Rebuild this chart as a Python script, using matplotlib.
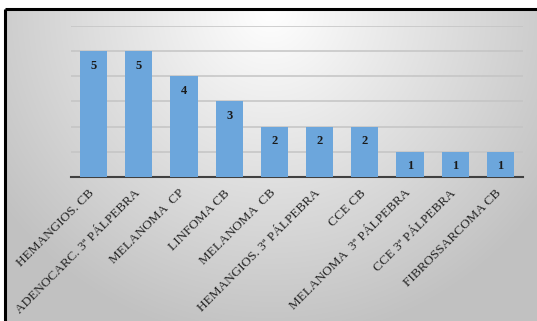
import numpy as np
import matplotlib.pyplot as plt
import matplotlib.transforms as mtransforms

categorias = ["HEMANGIOS. CB", "ADENOCARC. 3ª PÁLPEBRA", "MELANOMA  CP", "LINFOMA CB",
              "MELANOMA  CB", "HEMANGIOS. 3ª PÁLPEBRA", "CCE CB", "MELANOMA  3ª PÁLPEBRA",
              "CCE 3ª PÁLPEBRA", "FIBROSSARCOMA CB"]
casos = [5, 5, 4, 3, 2, 2, 2, 1, 1, 1]

W, H = 537, 321
fig = plt.figure(figsize=(W / 100, H / 100), dpi=100)
fig.patch.set_facecolor("white")

# fundo com degradê radial dentro da moldura
bg = fig.add_axes([0, 0, 1, 1], zorder=-2)
yy, xx = np.mgrid[0:H, 0:W]
d = np.sqrt(((xx - 270) / 330.0) ** 2 + ((yy - 10) / 330.0) ** 2)
g = np.clip(1.0 - 0.24 * d, 0.76, 1.0)
g[:9, :] = 1.0
g[:, :5] = 1.0
bg.imshow(np.dstack([g, g, g]), extent=[0, W, H, 0], aspect="auto", interpolation="bilinear")
bg.set_xlim(0, W)
bg.set_ylim(H, 0)
bg.axis("off")
bg.plot([5, 5], [9, H], color="black", lw=2.2, solid_capstyle="butt")
bg.plot([5, W], [9, 9], color="black", lw=2.2, solid_capstyle="butt")

ax = fig.add_axes([71 / W, 1 - 177 / H, (523 - 71) / W, (177 - 26) / H])
ax.patch.set_alpha(0)
x = np.arange(len(categorias))
bars = ax.bar(x, casos, width=0.6, color="#6ca6dc", zorder=3)
for xi, v in zip(x, casos):
    ax.text(xi, v - 0.57, str(v), ha="center", va="center", fontsize=9,
            fontweight="bold", family="Liberation Serif", color="#1a1a1a", zorder=4)

ax.set_xlim(-0.5, len(categorias) - 0.5)
ax.set_ylim(0, 6)
ax.set_yticks(range(1, 7))
ax.yaxis.grid(True, color="#c4c4c4", lw=1.1, zorder=0)
ax.tick_params(axis="y", left=False, labelleft=False)
ax.tick_params(axis="x", length=0, pad=8)
ax.set_xticks(x)
ax.set_xticklabels(categorias, rotation=45, ha="right", rotation_mode="anchor",
                   fontsize=9.5, family="Liberation Serif", color="#262626")
desloc = mtransforms.ScaledTranslation(-5 / 100, 1 / 100, fig.dpi_scale_trans)
for lbl in ax.get_xticklabels():
    lbl.set_transform(lbl.get_transform() + desloc)
for s in ["top", "right", "left"]:
    ax.spines[s].set_visible(False)
ax.spines["bottom"].set_color("#404040")
ax.spines["bottom"].set_linewidth(1.5)

fig.savefig("out.png", dpi=100)
